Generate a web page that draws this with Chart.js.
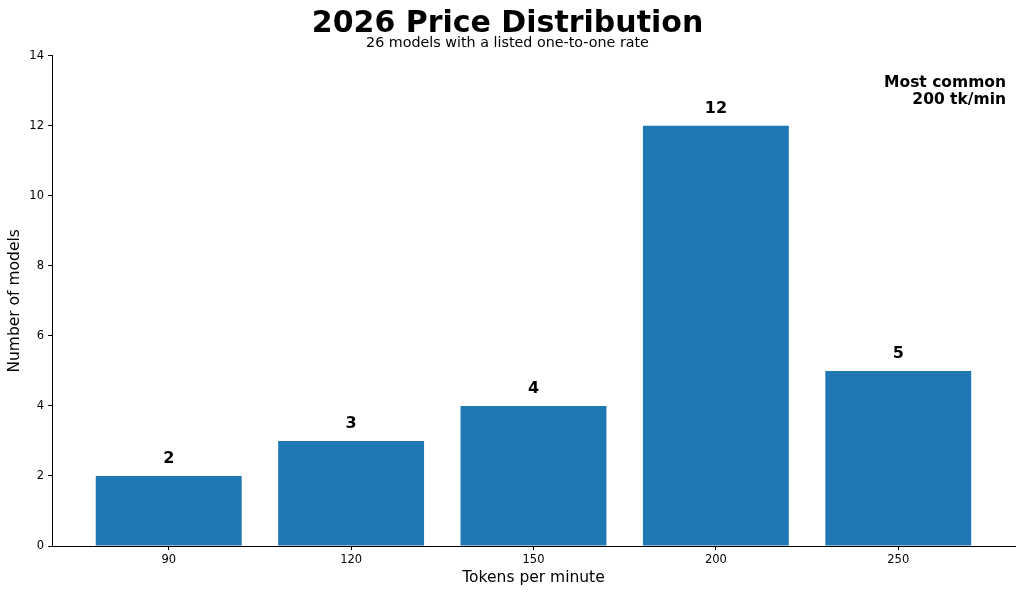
<!DOCTYPE html>
<html>
<head>
<meta charset="utf-8">
<script src="https://cdn.jsdelivr.net/npm/chart.js@4/dist/chart.umd.min.js"></script>
<style>
  html, body { margin: 0; padding: 0; background: #fff; }
  #wrap { width: 1024px; height: 594px; }
</style>
</head>
<body>
<div id="wrap"><canvas id="chart"></canvas></div>
<script>
// Chart data
const rates = ['90', '120', '150', '200', '250'];   // tokens per minute
const modelCounts = [2, 3, 4, 12, 5];
const yTicks = [0, 2, 4, 6, 8, 10, 12, 14];
const noteLines = ['Most common', '200 tk/min'];

const FONT = "'DejaVu Sans', sans-serif";
const BAR_COLOR = '#1f77b4';

// Draws the count above each bar and the note in the top right corner
const labelPlugin = {
    id: 'barLabels',
    afterDatasetsDraw(chart) {
        const ctx = chart.ctx;
        const meta = chart.getDatasetMeta(0);
        ctx.save();
        ctx.fillStyle = '#000';
        ctx.font = 'bold 16px ' + FONT;
        ctx.textAlign = 'center';
        ctx.textBaseline = 'alphabetic';
        meta.data.forEach((bar, i) => {
            ctx.fillText(String(modelCounts[i]), bar.x, bar.y - 12.5);
        });

        const area = chart.chartArea;
        ctx.font = 'bold 15.5px ' + FONT;
        ctx.textAlign = 'right';
        ctx.textBaseline = 'middle';
        noteLines.forEach((line, i) => {
            ctx.fillText(line, area.right - 9, area.top + 27 + i * 17);
        });
        ctx.restore();
    }
};

const chart = new Chart(document.getElementById('chart').getContext('2d'), {
    type: 'bar',
    data: {
        datasets: [{
            data: modelCounts.map((v, i) => ({ x: i, y: v })),
            backgroundColor: BAR_COLOR,
            borderWidth: 0,
            barPercentage: 1.0,
            categoryPercentage: 0.8
        }]
    },
    options: {
        responsive: true,
        maintainAspectRatio: false,
        animation: false,
        layout: { padding: { left: 0, right: 9, top: 0, bottom: 0 } },
        plugins: {
            legend: { display: false },
            tooltip: { enabled: false },
            title: {
                display: true,
                text: '2026 Price Distribution',
                color: '#000',
                font: { family: FONT, size: 30, weight: 'bold', lineHeight: 0.7 },
                padding: { top: 13.5, bottom: 0 }
            },
            subtitle: {
                display: true,
                text: '26 models with a listed one-to-one rate',
                color: '#000',
                font: { family: FONT, size: 14.3, lineHeight: 1.0 },
                padding: { top: 1.5, bottom: 5.5 }
            }
        },
        scales: {
            x: {
                type: 'linear',
                offset: false,
                min: -0.64,
                max: 4.64,
                afterBuildTicks: (scale) => {
                    scale.ticks = rates.map((r, i) => ({ value: i }));
                },
                afterFit: (scale) => { scale.height = 48; },
                ticks: {
                    color: '#000',
                    font: { family: FONT, size: 11.5 },
                    padding: 3,
                    callback: (v) => rates[v]
                },
                grid: { display: true, offset: false, drawOnChartArea: false, tickLength: 4, color: '#000' },
                border: { display: true, color: '#000', width: 1 },
                title: {
                    display: true,
                    text: 'Tokens per minute',
                    color: '#000',
                    font: { family: FONT, size: 15.5 },
                    padding: { top: 2, bottom: 7 }
                }
            },
            y: {
                min: 0,
                max: 14,
                afterBuildTicks: (scale) => {
                    scale.ticks = yTicks.map((v) => ({ value: v }));
                },
                afterFit: (scale) => { scale.width = 52; },
                ticks: {
                    color: '#000',
                    font: { family: FONT, size: 11.5 },
                    padding: 4
                },
                grid: { display: true, drawOnChartArea: false, tickLength: 4, color: '#000' },
                border: { display: true, color: '#000', width: 1 },
                title: {
                    display: true,
                    text: 'Number of models',
                    color: '#000',
                    font: { family: FONT, size: 15.5 },
                    padding: { top: 6, bottom: 4 }
                }
            }
        }
    },
    plugins: [labelPlugin]
});
</script>
</body>
</html>
